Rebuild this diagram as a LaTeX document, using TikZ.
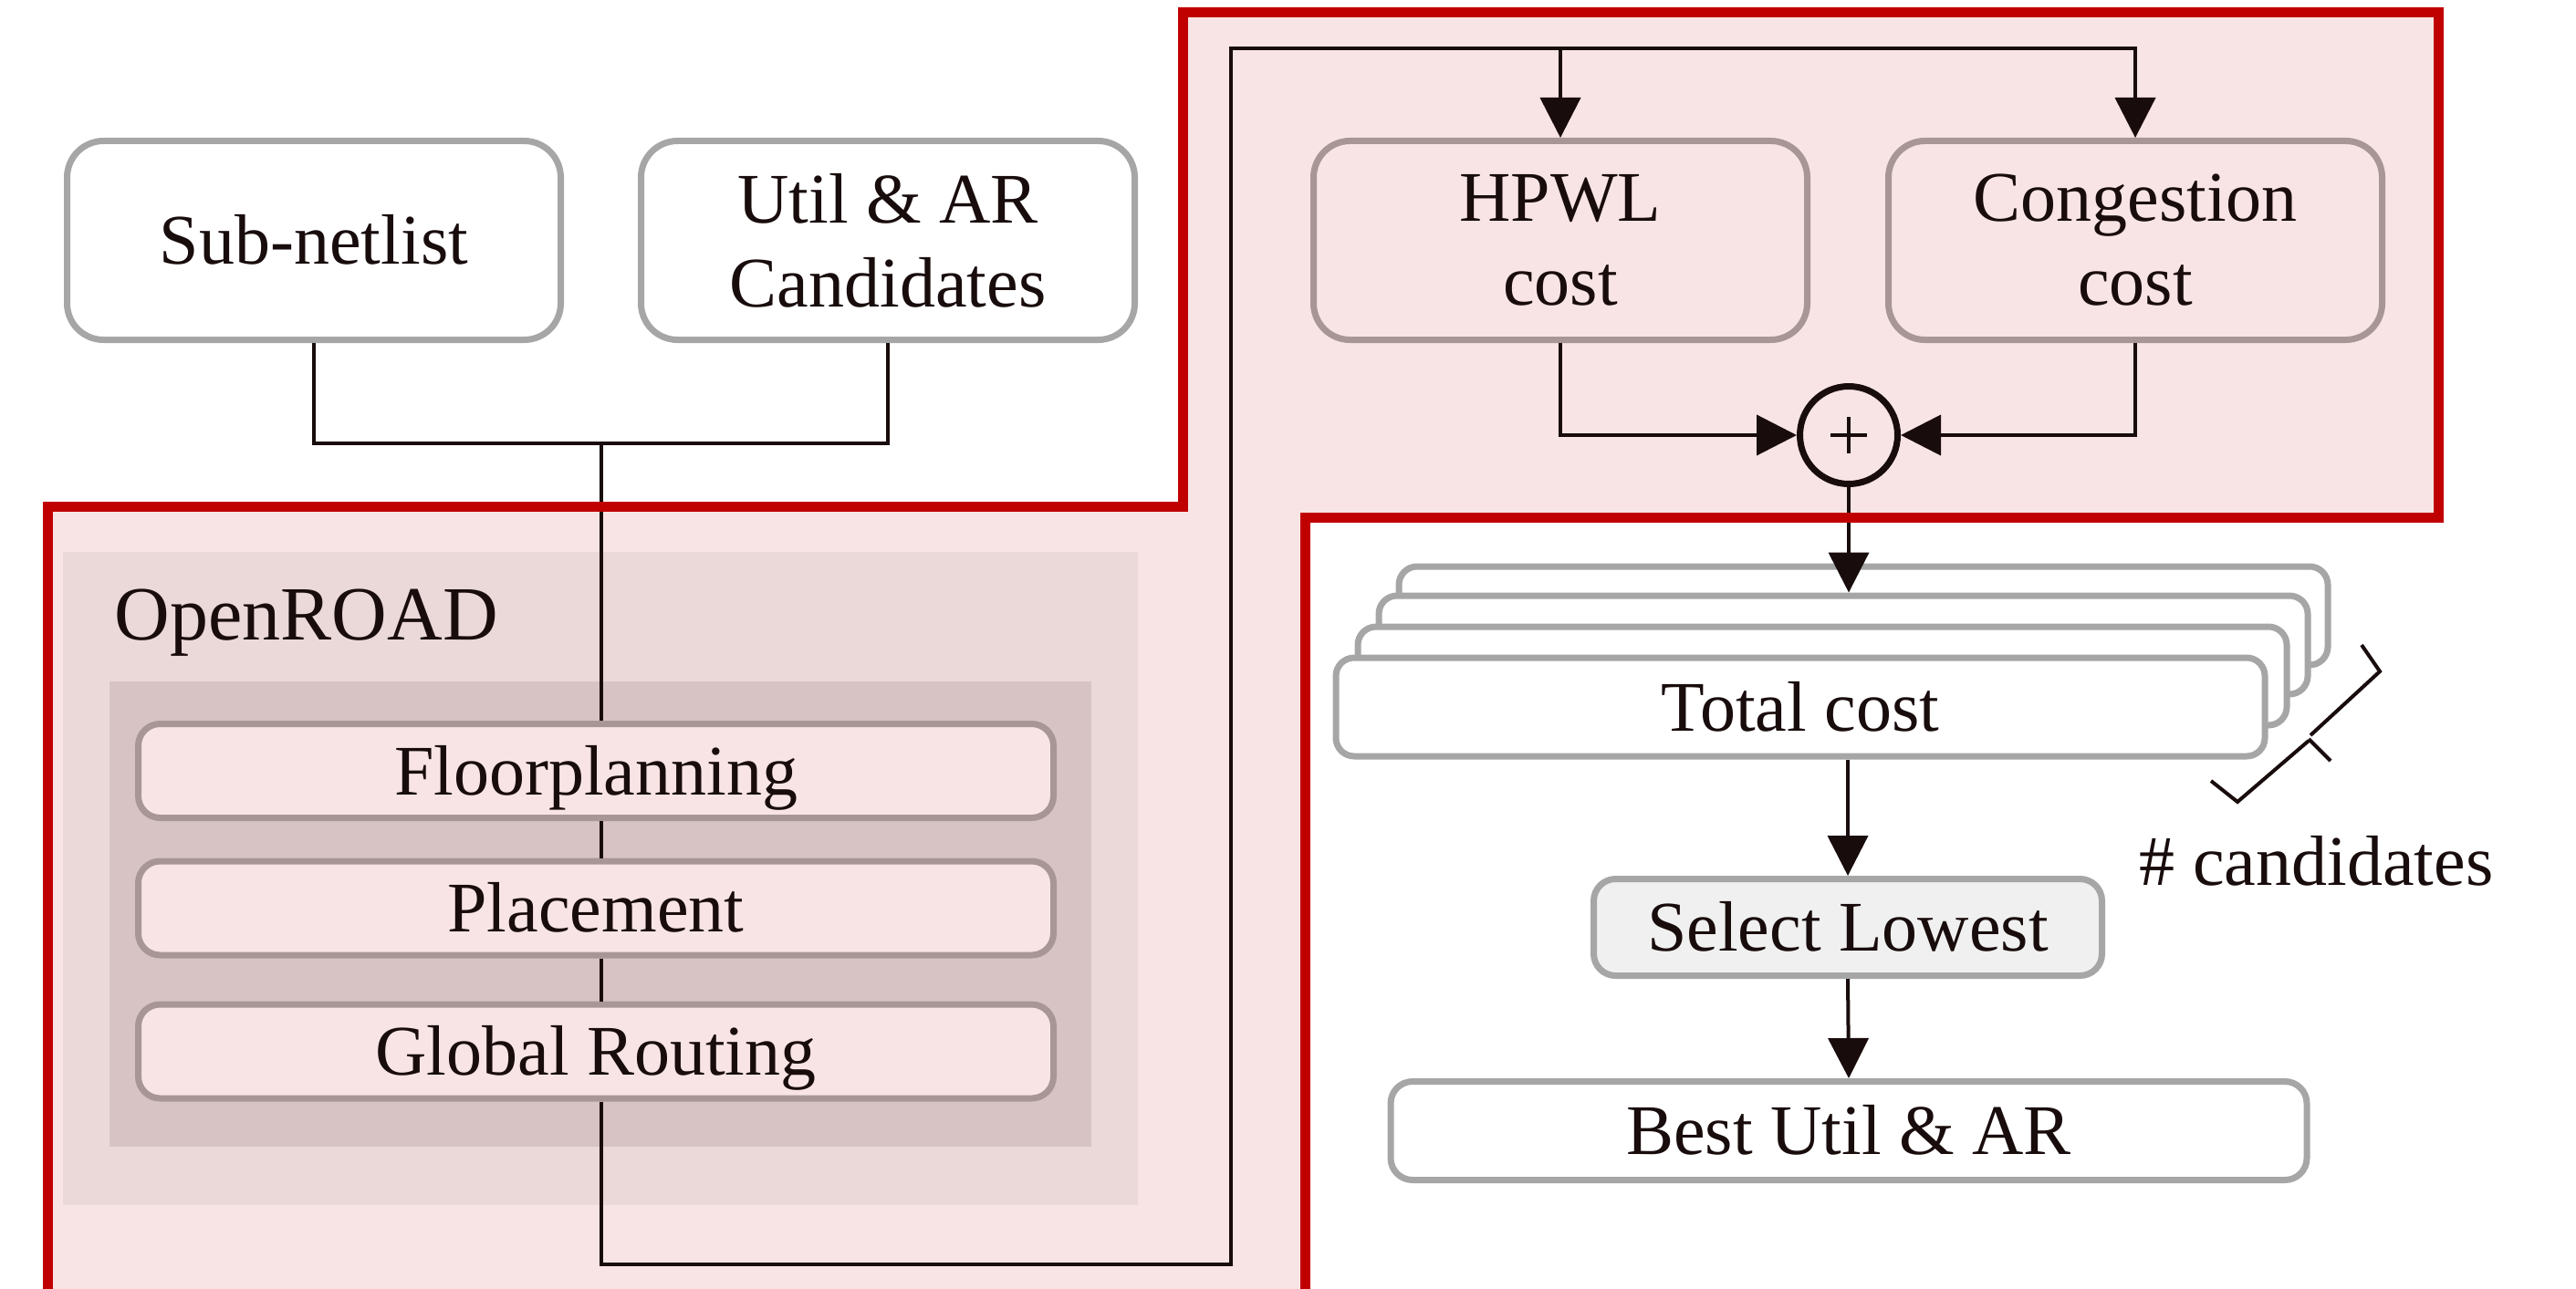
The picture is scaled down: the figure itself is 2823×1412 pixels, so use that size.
\documentclass[tikz,border=0pt]{standalone}
\usepackage{fontspec}
\setmainfont{Liberation Serif}
\usetikzlibrary{arrows.meta,calc}
\definecolor{redc}{RGB}{192,0,0}
\definecolor{pinkbg}{RGB}{248,228,228}
\definecolor{orouter}{RGB}{235,216,217}
\definecolor{orinner}{RGB}{215,195,196}
\definecolor{graybd}{RGB}{166,166,166}
\definecolor{pinkbd}{RGB}{168,150,150}
\definecolor{inkc}{RGB}{25,12,12}
\definecolor{selfill}{RGB}{240,240,240}
\begin{document}
\begin{tikzpicture}[x=0.25pt,y=-0.25pt,
  font=\fontsize{19.5pt}{23pt}\selectfont,
  every node/.style={text=inkc},
  gbox/.style={draw=graybd, line width=1.75pt, fill=white, rounded corners=10pt, inner sep=0pt, align=center},
  pbox/.style={draw=pinkbd, line width=1.75pt, fill=pinkbg, rounded corners=10pt, inner sep=0pt, align=center},
  onel/.style={text height=13pt, text depth=0pt},
  bigbox/.style={minimum width=135.25pt, minimum height=54.5pt},
  stagebox/.style={pbox, rounded corners=6pt, minimum width=250.75pt, minimum height=25.75pt, onel},
  stackbox/.style={gbox, rounded corners=5pt, minimum width=254.5pt, minimum height=27pt},
  conn/.style={draw=inkc, line width=1pt},
  arr/.style={conn, -{Triangle[length=11pt,width=11pt]}},
  redline/.style={draw=redc, line width=2.75pt}
]
\path[use as bounding box] (0,0) rectangle (2823,1412);
\clip (0,0) rectangle (2823,1412);

% pink region
\fill[pinkbg] (52,1430) -- (52,555) -- (1296,555) -- (1296,14) -- (2672,14) -- (2672,567) -- (1430,567) -- (1430,1430) -- cycle;

% OpenROAD panel
\fill[orouter] (69,605) rectangle (1247,1321);
\fill[orinner] (120,747) rectangle (1196,1257);
\node[anchor=base west, inner sep=0pt, font=\fontsize{21pt}{24pt}\selectfont] (ortitle) at (125,701) {OpenROAD};

% inputs
\node[gbox, bigbox, onel] (sub) at (344,263.5) {Sub-netlist};
\node[gbox, bigbox] (util) at (973,263.5) {Util \& AR\\Candidates};

% stages
\node[stagebox] (floor) at (653,845) {Floorplanning};
\node[stagebox] (place) at (653,995.5) {Placement};
\node[stagebox] (global) at (653,1152.5) {Global Routing};

% cost boxes
\node[pbox, bigbox] (hpwl) at (1710,263.5) {HPWL\\cost};
\node[pbox, bigbox] (cong) at (2340,263.5) {Congestion\\cost};
\node[circle, draw=inkc, line width=1.75pt, fill=pinkbg, minimum size=26.75pt, inner sep=0pt] (plus) at (2026,477) {};
\draw[inkc, line width=1pt] (plus.center) ++(-20,0) -- ++(40,0);
\draw[inkc, line width=1pt] (plus.center) ++(0,-20) -- ++(0,40);

% stack of candidates
\node[stackbox] (c1) at (2042,675) {};
\node[stackbox] (c2) at (2020,707) {};
\node[stackbox] (c3) at (1997,741) {};
\node[stackbox, onel] (front) at (1973,775) {Total cost};

\node[gbox, fill=selfill, rounded corners=6pt, minimum width=139.25pt, minimum height=26.5pt, onel] (sel) at (2025,1016.5) {Select Lowest};
\node[gbox, rounded corners=6pt, minimum width=251pt, minimum height=27pt, onel] (best) at (2026,1239.5) {Best Util \& AR};

% brace and label
\draw[conn] (2423,856) -- (2452,879) -- (2530,812);
\draw[conn] (2530,810) -- (2554,834);
\draw[conn] (2532,806) -- (2608,736) -- (2588,707);
\node[anchor=base west, inner sep=0pt] (ncand) at (2344,970) {\# candidates};

% connectors
\coordinate (j) at (659,486);
\coordinate (b) at (659,1386);
\coordinate (c) at (1349,1386);
\coordinate (d) at (1349,53);
\draw[conn] (sub.south) |- (j);
\draw[conn] (util.south) |- (j);
\draw[conn] (j) -- (j |- floor.north);
\draw[conn] (j |- floor.south) -- (j |- place.north);
\draw[conn] (j |- place.south) -- (j |- global.north);
\draw[arr] (j |- global.south) -- (b) -- (c) -- (d) -| (cong.north);
\draw[arr] (hpwl.north |- d) -- (hpwl.north);
\draw[arr] (hpwl.south) |- (plus.west);
\draw[arr] (cong.south) |- (plus.east);
\draw[arr] (plus.south) -- (plus.south |- c2.north);
\draw[arr] (sel.north |- front.south) -- (sel.north);
\draw[arr] (sel.south) -- (best.north);

% red outline
\draw[redline] (52,1430) -- (52,555) -- (1296,555) -- (1296,14) -- (2672,14) -- (2672,567) -- (1430,567) -- (1430,1430);
\end{tikzpicture}
\end{document}
